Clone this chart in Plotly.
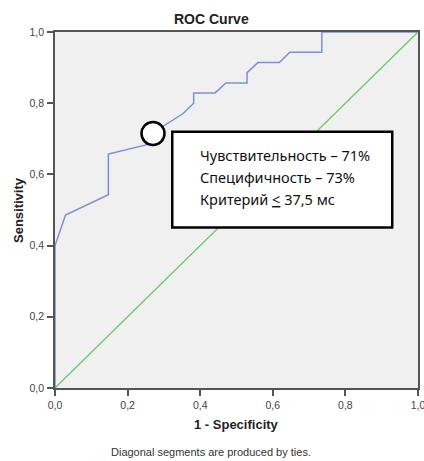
import plotly.graph_objects as go

# ROC curve vertices (1 - specificity, sensitivity)
fpr = [0.0, 0.0, 0.029, 0.147, 0.147, 0.265, 0.265, 0.353, 0.382, 0.382,
       0.441, 0.471, 0.529, 0.529, 0.559, 0.618, 0.647, 0.735, 0.735, 1.0]
tpr = [0.0, 0.400, 0.486, 0.543, 0.657, 0.686, 0.714, 0.771, 0.800, 0.829,
       0.829, 0.857, 0.857, 0.886, 0.914, 0.914, 0.943, 0.943, 1.0, 1.0]

# Reference line
ref_x = [0.0, 1.0]
ref_y = [0.0, 1.0]

# Chosen cut-off point
cut_fpr = [0.27]
cut_tpr = [0.715]

ticks = [0.0, 0.2, 0.4, 0.6, 0.8, 1.0]

box_lines = [
    "Чувствительность – 71%",
    "Специфичность – 73%",
    "Критерий <u>&lt;</u> 37,5 мс",
]

fig = go.Figure()
fig.add_trace(go.Scatter(x=ref_x, y=ref_y, mode="lines",
                         line=dict(color="#6ccb6a", width=1.3),
                         cliponaxis=False, hoverinfo="skip"))
fig.add_trace(go.Scatter(x=fpr, y=tpr, mode="lines",
                         line=dict(color="#7f90d0", width=1.5),
                         cliponaxis=False, hoverinfo="skip"))
fig.add_trace(go.Scatter(x=cut_fpr, y=cut_tpr, mode="markers",
                         marker=dict(size=23, color="white",
                                     line=dict(color="black", width=2.5)),
                         cliponaxis=False, hoverinfo="skip"))

# Annotation box
fig.add_shape(type="rect", xref="x", yref="y",
              x0=0.323, x1=0.929, y0=0.451, y1=0.720,
              fillcolor="white", line=dict(color="black", width=2.5),
              layer="above")
for i, t in enumerate(box_lines):
    fig.add_annotation(x=0.393, y=0.654 - i * 0.062, xref="x", yref="y",
                       text=t, showarrow=False, xanchor="left", yanchor="middle",
                       font=dict(family="Noto Sans", size=14.5, color="#111"))

fig.add_annotation(x=0.5, y=1, xref="paper", yref="paper", xshift=-25, yshift=13,
                   text="<b>ROC Curve</b>", showarrow=False, yanchor="middle",
                   font=dict(family="Liberation Sans", size=14, color="#222"))
fig.add_annotation(x=0.5, y=0, xref="paper", yref="paper", yshift=-36,
                   text="<b>1 - Specificity</b>", showarrow=False, yanchor="middle",
                   font=dict(family="Liberation Sans", size=13, color="#222"))
fig.add_annotation(x=0, y=0.5, xref="paper", yref="paper", xshift=-37,
                   text="<b>Sensitivity</b>", showarrow=False, textangle=-90,
                   xanchor="center", yanchor="middle",
                   font=dict(family="Liberation Sans", size=13, color="#222"))
fig.add_annotation(x=0.5, y=0, xref="paper", yref="paper", xshift=-26, yshift=-64,
                   text="Diagonal segments are produced by ties.", showarrow=False,
                   yanchor="middle",
                   font=dict(family="Liberation Sans", size=11, color="#333"))

axis_common = dict(range=[0, 1], tickvals=ticks, tickformat=".1f",
                   showgrid=False, zeroline=False, showline=True, mirror=True,
                   linecolor="#555", linewidth=1.5, ticks="outside", ticklen=6,
                   tickcolor="#555", tickwidth=1.5, automargin=False,
                   ticklabeloverflow="allow", ticklabelstandoff=1,
                   tickfont=dict(family="Liberation Sans", size=10.5, color="#444"))

fig.update_layout(
    width=424, height=461,
    margin=dict(l=55, r=6, t=32, b=73),
    paper_bgcolor="white", plot_bgcolor="#f0f0f0",
    separators=", ",
    showlegend=False,
    xaxis=dict(**axis_common),
    yaxis=dict(**axis_common),
)

fig.write_html("out.html")
